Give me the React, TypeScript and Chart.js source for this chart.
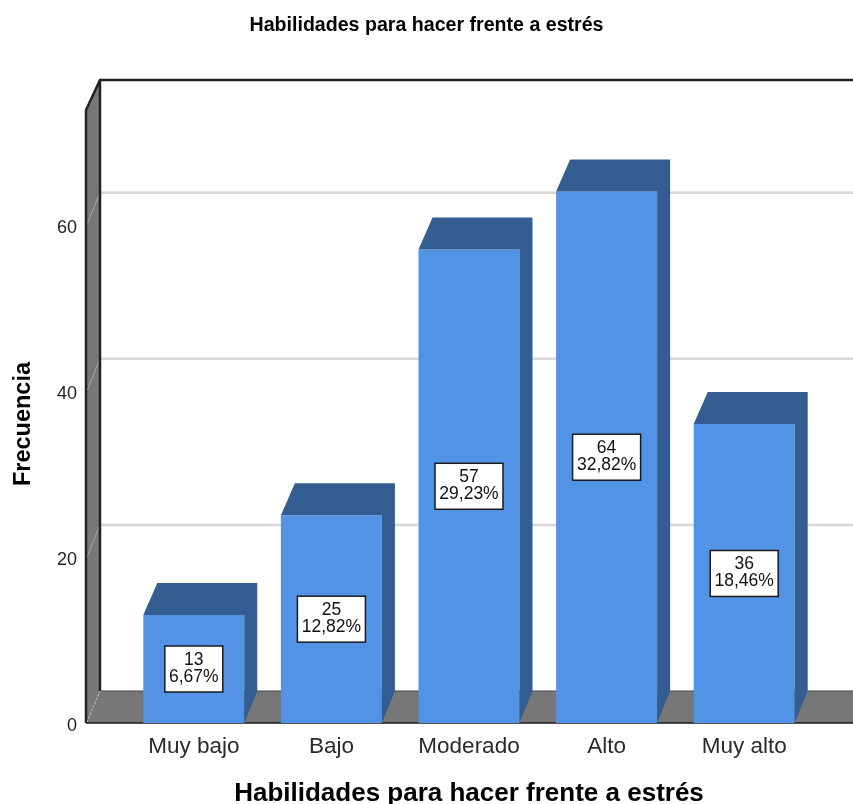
import React, { useEffect, useRef } from "react";
import { Chart, registerables } from "chart.js";

Chart.register(...registerables);

const categories = ["Muy bajo", "Bajo", "Moderado", "Alto", "Muy alto"];
const counts = [13, 25, 57, 64, 36];
const percents = ["6,67%", "12,82%", "29,23%", "32,82%", "18,46%"];
const chartTitle = "Habilidades para hacer frente a estrés";
const xTitle = "Habilidades para hacer frente a estrés";
const yTitle = "Frecuencia";

const FONT = '"Liberation Sans", Arial, sans-serif';
const DEPTH_X = 14;
const DEPTH_Y = 32;
const BAR_SHADE = "#345e92";

// Paints the box behind the bars: left wall, floor, back-wall gridlines and frame.
const wallsPlugin = {
  id: "walls",
  beforeDatasetsDraw(chart: any) {
    const { ctx, chartArea, scales, width } = chart;
    const y = scales.y;
    const bottom = chartArea.bottom;
    const top = chartArea.top;
    const frontX = chartArea.left - 39;
    const backX = frontX + DEPTH_X;
    const backTop = top - DEPTH_Y + 2;
    ctx.save();

    ctx.fillStyle = "#777777";
    ctx.beginPath();
    ctx.moveTo(frontX, top);
    ctx.lineTo(backX, backTop);
    ctx.lineTo(backX, bottom - DEPTH_Y);
    ctx.lineTo(frontX, bottom);
    ctx.closePath();
    ctx.fill();

    ctx.beginPath();
    ctx.moveTo(frontX, bottom);
    ctx.lineTo(backX, bottom - DEPTH_Y);
    ctx.lineTo(width, bottom - DEPTH_Y);
    ctx.lineTo(width, bottom);
    ctx.closePath();
    ctx.fill();

    y.ticks.forEach((t: any) => {
      if (t.value === 0) return;
      const py = y.getPixelForValue(t.value);
      ctx.lineWidth = 2.5;
      ctx.strokeStyle = "#d8d8d8";
      ctx.beginPath();
      ctx.moveTo(backX + 1, py - DEPTH_Y);
      ctx.lineTo(width, py - DEPTH_Y);
      ctx.stroke();
      ctx.lineWidth = 1;
      ctx.strokeStyle = "#a8a8a8";
      ctx.beginPath();
      ctx.moveTo(frontX + 1, py);
      ctx.lineTo(backX, py - DEPTH_Y);
      ctx.stroke();
    });

    ctx.strokeStyle = "#222222";
    ctx.lineWidth = 2.5;
    ctx.beginPath();
    ctx.moveTo(frontX, bottom);
    ctx.lineTo(frontX, top);
    ctx.lineTo(backX, backTop);
    ctx.lineTo(width, backTop);
    ctx.moveTo(backX, backTop);
    ctx.lineTo(backX, bottom - DEPTH_Y);
    ctx.stroke();

    ctx.strokeStyle = "#444444";
    ctx.lineWidth = 1;
    ctx.beginPath();
    ctx.moveTo(backX, bottom - DEPTH_Y);
    ctx.lineTo(width, bottom - DEPTH_Y);
    ctx.stroke();

    ctx.strokeStyle = "#1a1a1a";
    ctx.lineWidth = 1.5;
    ctx.beginPath();
    ctx.moveTo(frontX, bottom);
    ctx.lineTo(width, bottom);
    ctx.stroke();

    // Dotted highlight on the floor's left edge.
    ctx.strokeStyle = "#bdbdbd";
    ctx.lineWidth = 1;
    ctx.setLineDash([2, 2]);
    ctx.beginPath();
    ctx.moveTo(frontX + 1, bottom - 1);
    ctx.lineTo(backX, bottom - DEPTH_Y);
    ctx.stroke();
    ctx.restore();
  },
  // Extrudes each bar and places its count / percent box over it.
  afterDatasetsDraw(chart: any) {
    const { ctx, chartArea } = chart;
    const bars = chart.getDatasetMeta(0).data;
    ctx.save();
    bars.forEach((bar: any, i: number) => {
      const { x, y, width } = bar.getProps(["x", "y", "width"], true);
      const l = x - width / 2;
      const r = x + width / 2;
      const b = chartArea.bottom;
      ctx.fillStyle = BAR_SHADE;
      ctx.beginPath();
      ctx.moveTo(l, y);
      ctx.lineTo(l + DEPTH_X, y - DEPTH_Y);
      ctx.lineTo(r + DEPTH_X - 1, y - DEPTH_Y);
      ctx.lineTo(r + DEPTH_X - 1, b - DEPTH_Y);
      ctx.lineTo(r, b);
      ctx.lineTo(r, y);
      ctx.closePath();
      ctx.fill();

      ctx.font = `17.5px ${FONT}`;
      const text1 = String(counts[i]);
      const text2 = percents[i];
      const boxW = Math.ceil(ctx.measureText(text2).width) + 8;
      const boxH = 46;
      const cy = (y + b) / 2;
      ctx.fillStyle = "#ffffff";
      ctx.strokeStyle = "#1a1a1a";
      ctx.lineWidth = 1.5;
      ctx.fillRect(x - boxW / 2, cy - boxH / 2, boxW, boxH);
      ctx.strokeRect(x - boxW / 2, cy - boxH / 2, boxW, boxH);
      ctx.fillStyle = "#111111";
      ctx.textAlign = "center";
      ctx.textBaseline = "middle";
      ctx.fillText(text1, x, cy - 9);
      ctx.fillText(text2, x, cy + 8);
    });
    ctx.restore();
  },
  // The value-axis title sits a little below the plot's centre.
  afterDraw(chart: any) {
    const { ctx } = chart;
    ctx.save();
    ctx.translate(24, 424);
    ctx.rotate(-Math.PI / 2);
    ctx.font = `bold 23.5px ${FONT}`;
    ctx.fillStyle = "#000000";
    ctx.textAlign = "center";
    ctx.textBaseline = "middle";
    ctx.fillText(yTitle, 0, 0);
    ctx.restore();
  },
};

export default function App() {
  const canvasRef = useRef<HTMLCanvasElement>(null);

  useEffect(() => {
    const chart = new Chart(canvasRef.current as HTMLCanvasElement, {
      type: "bar",
      data: {
        labels: categories,
        datasets: [
          {
            data: counts,
            backgroundColor: "#5393e5",
            borderWidth: 0,
            barPercentage: 0.734,
            categoryPercentage: 1,
          },
        ],
      },
      options: {
        responsive: false,
        animation: false,
        layout: { padding: 0 },
        plugins: {
          legend: { display: false },
          tooltip: { enabled: false },
          title: {
            display: true,
            text: chartTitle,
            color: "#000000",
            font: { family: FONT, size: 19.6, weight: "bold" },
            padding: { top: 14, bottom: 72.5 },
          },
        },
        scales: {
          x: {
            grid: { display: false, drawTicks: false },
            border: { display: false },
            ticks: {
              color: "#2a2a2a",
              font: { family: FONT, size: 22.5 },
              padding: 10,
              maxRotation: 0,
              autoSkip: false,
            },
            title: {
              display: true,
              text: xTitle,
              color: "#000000",
              font: { family: FONT, size: 26, weight: "bold" },
              padding: { top: 20, bottom: -5 },
            },
            afterFit(scale: any) {
              scale.height = 81;
            },
          },
          y: {
            min: 0,
            max: 73.8,
            grid: { display: false, drawTicks: false },
            border: { display: false },
            ticks: {
              stepSize: 20,
              includeBounds: false,
              color: "#222222",
              font: { family: FONT, size: 18 },
              padding: 48,
              labelOffset: 3,
            },
            afterFit(scale: any) {
              scale.width = 125;
            },
          },
          // Empty gutter on the right so the plot stops short of the canvas edge.
          gutter: {
            type: "linear",
            position: "right",
            grid: { display: false, drawTicks: false },
            border: { display: false },
            ticks: { display: false },
            afterFit(scale: any) {
              scale.width = 40;
            },
          },
        },
      },
      plugins: [wallsPlugin],
    });
    return () => chart.destroy();
  }, []);

  return (
    <div style={{ position: "absolute", left: 0, top: 0, width: 853, height: 804, overflow: "hidden", background: "#ffffff" }}>
      <canvas ref={canvasRef} width={853} height={804} style={{ display: "block" }} />
    </div>
  );
}
